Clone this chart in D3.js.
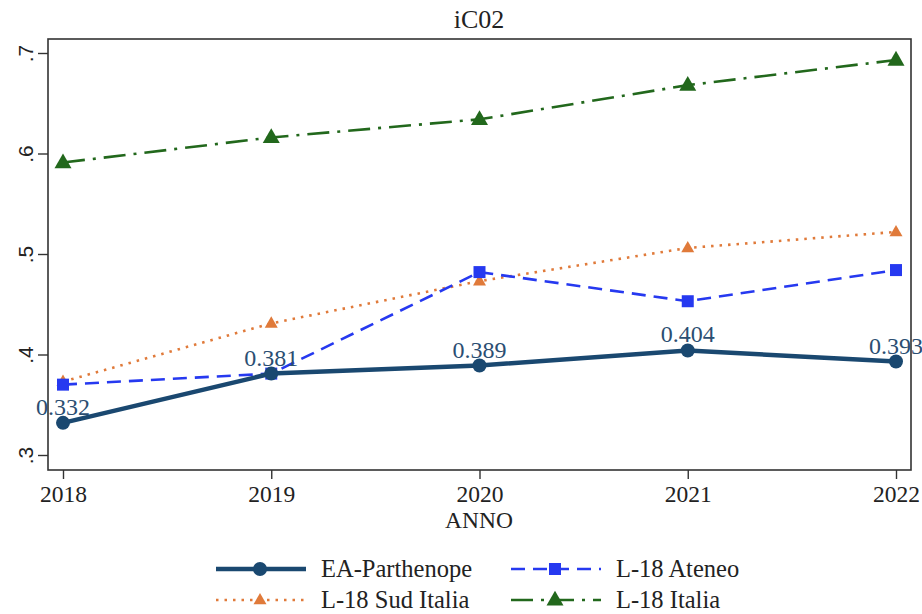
<!DOCTYPE html>
<html><head><meta charset="utf-8">
<script src="https://cdn.jsdelivr.net/npm/d3@7"></script>
<style>body{margin:0;background:#fff}svg{display:block}
.serif{font-family:"Liberation Serif","DejaVu Serif","Times New Roman",serif}
.sans{font-family:"Liberation Sans","DejaVu Sans",Arial,sans-serif}
</style>
</head><body>
<svg id="c" width="922" height="614"></svg>
<script>
const years = [2018, 2019, 2020, 2021, 2022];
const parthenope = [0.332, 0.381, 0.389, 0.404, 0.393];
const ateneo = [0.370, 0.381, 0.482, 0.453, 0.484];
const sudItalia = [0.373, 0.431, 0.473, 0.506, 0.522];
const italia = [0.591, 0.616, 0.634, 0.668, 0.693];
const yTicks = [0.3, 0.4, 0.5, 0.6, 0.7];
const yTickLabels = [".3", ".4", ".5", ".6", ".7"];

const svg = d3.select("#c");
const L = 48, R = 911, T = 39, B = 470;
const x = d3.scaleLinear().domain([2018, 2022]).range([63, 896]);
const y = d3.scaleLinear().domain([0.3, 0.7]).range([455, 53]);

svg.append("text").attr("class", "serif").attr("x", 479).attr("y", 28).attr("text-anchor", "middle")
  .attr("font-size", 26).attr("fill", "#222").text("iC02");

svg.append("rect").attr("x", L).attr("y", T).attr("width", R - L).attr("height", B - T)
  .attr("fill", "none").attr("stroke", "#333").attr("stroke-width", 1.6);

// y axis
const ya = svg.append("g").attr("transform", `translate(${L},0)`)
  .call(d3.axisLeft(y).tickValues(yTicks).tickSize(10).tickFormat((d, i) => yTickLabels[i]));
ya.select(".domain").remove();
ya.selectAll("line").attr("stroke", "#333").attr("stroke-width", 1.4);
ya.selectAll(".tick text").attr("class", "sans").attr("font-size", 21).attr("fill", "#222")
  .attr("text-anchor", "middle").attr("x", 0).attr("y", 0).attr("dy", null)
  .attr("transform", "translate(-15,0) rotate(-90)");

// x axis
const xa = svg.append("g").attr("transform", `translate(0,${B})`)
  .call(d3.axisBottom(x).tickValues(years).tickSize(9).tickFormat(d3.format("d")));
xa.select(".domain").remove();
xa.selectAll("line").attr("stroke", "#333").attr("stroke-width", 1.4);
xa.selectAll(".tick text").attr("class", "serif").attr("font-size", 23.5).attr("fill", "#222")
  .attr("y", 32).attr("dy", null);

svg.append("text").attr("class", "serif").attr("x", 479).attr("y", 528).attr("text-anchor", "middle")
  .attr("font-size", 23.5).attr("fill", "#222").text("ANNO");

const series = [
  {vals: italia, color: "#22681c", width: 2.6, dash: "22,8,3,8", marker: "tri", size: 17},
  {vals: sudItalia, color: "#e07a3a", width: 2.6, dash: "2.5,6", marker: "tri", size: 13},
  {vals: ateneo, color: "#2639f0", width: 2.6, dash: "14,8", marker: "sq", size: 12},
  {vals: parthenope, color: "#1a4870", width: 4.5, dash: null, marker: "circ", size: 7},
];
const line = d3.line().x((d, i) => x(years[i])).y(d => y(d));
function marker(g, type, cx, cy, s, color) {
  if (type === "circ") g.append("circle").attr("cx", cx).attr("cy", cy).attr("r", s).attr("fill", color);
  else if (type === "sq") g.append("rect").attr("x", cx - s/2).attr("y", cy - s/2).attr("width", s).attr("height", s).attr("fill", color);
  else {
    const h = s * 0.87;
    g.append("path").attr("d", `M${cx},${cy - h*0.62}L${cx + s/2},${cy + h*0.38}L${cx - s/2},${cy + h*0.38}Z`).attr("fill", color);
  }
}
series.forEach(s => {
  const g = svg.append("g");
  g.append("path").datum(s.vals).attr("d", line).attr("fill", "none").attr("stroke", s.color)
    .attr("stroke-width", s.width).attr("stroke-dasharray", s.dash);
  s.vals.forEach((v, i) => marker(g, s.marker, x(years[i]), y(v), s.size, s.color));
});

// data labels
svg.append("g").selectAll("text").data(parthenope).join("text").attr("class", "serif")
  .attr("x", (d, i) => x(years[i])).attr("y", d => y(d) - 8).attr("text-anchor", "middle")
  .attr("font-size", 24).attr("fill", "#2b4e72")
  .text(d => d.toFixed(3));

// legend
const leg = [
  {s: series[3], label: "EA-Parthenope", x0: 216, y0: 569},
  {s: series[2], label: "L-18 Ateneo", x0: 511, y0: 569},
  {s: series[1], label: "L-18 Sud Italia", x0: 216, y0: 600},
  {s: series[0], label: "L-18 Italia", x0: 511, y0: 600},
];
leg.forEach(l => {
  const g = svg.append("g");
  g.append("line").attr("x1", l.x0).attr("x2", l.x0 + 90).attr("y1", l.y0).attr("y2", l.y0)
    .attr("stroke", l.s.color).attr("stroke-width", l.s.width).attr("stroke-dasharray", l.s.dash);
  marker(g, l.s.marker, l.x0 + 44, l.y0, l.s.size, l.s.color);
  g.append("text").attr("class", "serif").attr("x", l.x0 + 105).attr("y", l.y0 + 8)
    .attr("font-size", 24.5).attr("fill", "#222").text(l.label);
});
</script>
</body></html>
